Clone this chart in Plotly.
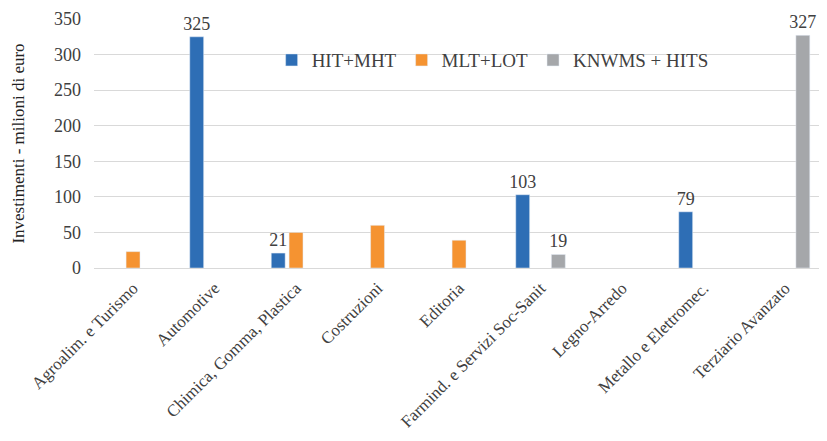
import plotly.graph_objects as go

categories = ["Agroalim. e Turismo", "Automotive", "Chimica, Gomma, Plastica", "Costruzioni",
              "Editoria", "Farmind. e Servizi Soc-Sanit", "Legno-Arredo", "Metallo e Elettromec.",
              "Terziario Avanzato"]
hit_mht = [None, 325, 21, None, None, 103, None, 79, None]
mlt_lot = [23, None, 50, 60, 39, None, None, None, None]
knwms_hits = [None, None, None, None, None, 19, None, None, 327]
hit_labels = ["", "325", "21", "", "", "103", "", "79", ""]
mlt_labels = ["", "", "", "", "", "", "", "", ""]
knwms_labels = ["", "", "", "", "", "19", "", "", "327"]
y_ticks = [0, 50, 100, 150, 200, 250, 300, 350]

FONT = "Liberation Serif"
TXT = "#404040"

fig = go.Figure()
for name, vals, labels, color in [
    ("HIT+MHT", hit_mht, hit_labels, "#2E6EB5"),
    ("MLT+LOT", mlt_lot, mlt_labels, "#F59331"),
    ("KNWMS + HITS", knwms_hits, knwms_labels, "#A5A7AA"),
]:
    fig.add_trace(go.Bar(
        x=categories, y=vals, name=name, marker_color=color,
        text=labels, textposition="outside", cliponaxis=False, constraintext="none",
        textfont=dict(family=FONT, size=18, color=TXT),
    ))

fig.update_layout(
    width=811, height=425,
    margin=dict(l=86, r=0, t=11, b=165),
    paper_bgcolor="white", plot_bgcolor="white",
    barmode="group", bargap=0.344, bargroupgap=0.22,
    font=dict(family=FONT, size=16, color=TXT),
    showlegend=True,
    legend=dict(orientation="h", x=0.245, y=0.835, xanchor="left", yanchor="middle",
                bgcolor="rgba(0,0,0,0)", font=dict(family=FONT, size=19, color=TXT),
                itemwidth=30),
)
fig.update_xaxes(range=[-0.479, 8.417], tickangle=-45, showgrid=False, automargin=False,
                 showline=False, ticks="", ticklabelstandoff=6,
                 tickfont=dict(family=FONT, size=17, color=TXT))
fig.update_yaxes(range=[0, 350], tickvals=y_ticks, showgrid=True, gridcolor="#D9D9D9",
                 gridwidth=1, zeroline=True, zerolinecolor="#D9D9D9", zerolinewidth=1,
                 showline=False, ticks="", automargin=False, ticklabelstandoff=12,
                 tickfont=dict(family=FONT, size=18, color=TXT),
                 title=dict(text="Investimenti - milioni di euro", standoff=25,
                            font=dict(family=FONT, size=17, color="#222222")))

fig.write_html("out.html")
